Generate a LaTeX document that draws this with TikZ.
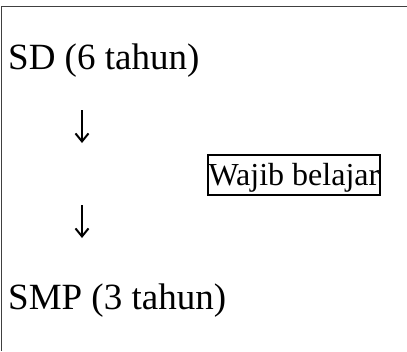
\documentclass[tikz,border=0pt]{standalone}
\usepackage{fontspec}
\setmainfont{Liberation Serif}
\usetikzlibrary{arrows.meta}

\begin{document}
\begin{tikzpicture}[x=1pt,y=-1pt,
    level_text/.style={anchor=base west,inner sep=0pt,font=\fontsize{37}{44}\selectfont},
    note_box/.style={draw,line width=1.6pt,anchor=base west,inner xsep=0.8pt,inner ysep=0pt,text height=30pt,text depth=10pt,font=\fontsize{32}{38}\selectfont},
    down_arrow/.style={line width=2pt,-{Straight Barb[length=8pt,width=13pt]}}]
    \useasboundingbox (0,0) rectangle (407,351);
    \draw[line width=1.5pt,black!75] (1.5,351) -- (1.5,6.5) -- (407,6.5);
    \node[level_text] (sd) at (8,69) {SD (6 tahun)};
    \node[level_text] (smp) at (8,309) {SMP (3 tahun)};
    \node[note_box] (wajib) at (207,185) {Wajib belajar};
    \coordinate (top1) at (82,110);
    \coordinate (end1) at (82,143);
    \coordinate (top2) at (82,205);
    \coordinate (end2) at (82,238);
    \draw[down_arrow] (top1) -- (end1);
    \draw[down_arrow] (top2) -- (end2);
\end{tikzpicture}
\end{document}
